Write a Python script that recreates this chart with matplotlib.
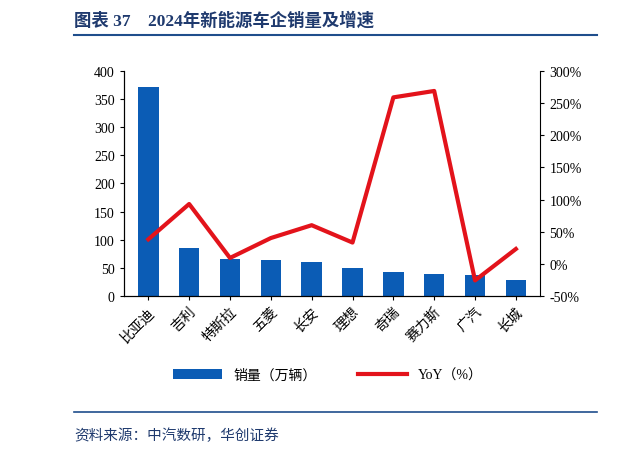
import matplotlib
matplotlib.use("Agg")
import matplotlib.pyplot as plt
from matplotlib.ticker import FuncFormatter

plt.rcParams['font.family'] = ['Liberation Serif', 'Noto Sans CJK SC', 'DejaVu Sans']

brands = ['比亚迪', '吉利', '特斯拉', '五菱', '长安', '理想', '奇瑞', '赛力斯', '广汽', '长城']
sales = [372, 86, 65, 64, 61, 50, 43, 39, 37, 29]
yoy = [38, 93, 9, 40, 60, 33, 259, 269, -26, 23]

fig = plt.figure(figsize=(6.19, 4.56), dpi=100)
fig.text(0.12, 0.955, '图表 37    2024年新能源车企销量及增速', fontsize=12.5, fontweight='bold',
         color='#1F3A6E', va='center')
fig.add_artist(plt.Line2D([0.12, 0.965], [0.922, 0.922], color='#1F4E8C', lw=1.5))
fig.add_artist(plt.Line2D([0.12, 0.965], [0.095, 0.095], color='#1F4E8C', lw=1.2))
fig.text(0.12, 0.045, '资料来源：中汽数研，华创证券', fontsize=10.5, style='italic',
         color='#1F3A6E', va='center')

ax = fig.add_axes([0.2, 0.349, 0.673, 0.493])
x = range(len(brands))
ax.bar(x, sales, width=0.5, color='#0B5CB5', label='销量（万辆）')
ax.set_ylim(0, 400)
ax.set_yticks(range(0, 401, 50))
ax.set_xlim(-0.6, len(brands) - 0.4)
ax.set_xticks(list(x))
ax.set_xticklabels(brands, rotation=45, ha='right', rotation_mode='anchor', fontsize=10)
ax.tick_params(labelsize=10, length=3)
for s in ['top', 'right']:
    ax.spines[s].set_visible(False)

ax2 = ax.twinx()
ax2.plot(x, yoy, color='#E3131B', lw=3, label='YoY（%）')
ax2.set_ylim(-50, 300)
ax2.set_yticks(range(-50, 301, 50))
ax2.yaxis.set_major_formatter(FuncFormatter(lambda v, p: f'{int(v)}%'))
ax2.tick_params(labelsize=10, length=3)
ax2.spines['top'].set_visible(False)

h1, l1 = ax.get_legend_handles_labels()
h2, l2 = ax2.get_legend_handles_labels()
fig.legend(h1 + h2, l1 + l2, loc='center', bbox_to_anchor=(0.53, 0.175), ncol=2,
           frameon=False, fontsize=10, handlelength=3.5, columnspacing=3)

fig.savefig('out.png', dpi=100)
